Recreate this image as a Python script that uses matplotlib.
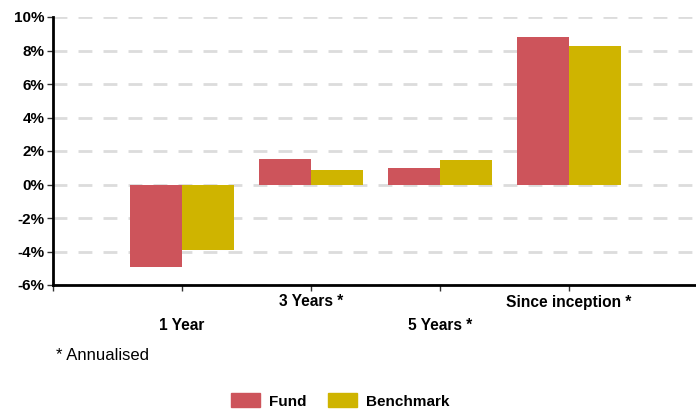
import numpy as np
import matplotlib.pyplot as plt
from matplotlib.transforms import blended_transform_factory
from matplotlib.patches import Patch

plt.rcParams['font.family'] = ['Liberation Sans', 'DejaVu Sans']

categories = ['1 Year', '3 Years *', '5 Years *', 'Since inception *']
fund = [-4.9, 1.5, 1.0, 8.8]
benchmark = [-3.9, 0.85, 1.45, 8.25]
y_ticks = [-6, -4, -2, 0, 2, 4, 6, 8, 10]

fund_color = '#cd545b'
bench_color = '#cfb400'

fig = plt.figure(figsize=(6.96, 4.12), dpi=100)
ax = fig.add_axes([53 / 696, 127 / 412, 645 / 696, 268 / 412])

x = np.arange(1, len(categories) + 1)
w = 0.4
ax.bar(x - w / 2, fund, w, color=fund_color, zorder=3)
ax.bar(x + w / 2, benchmark, w, color=bench_color, zorder=3)

ax.set_xlim(0, 5)
ax.set_ylim(-6, 10)
ax.set_yticks(y_ticks)
ax.set_yticklabels(['{}%'.format(v) for v in y_ticks], fontweight='bold', fontsize=11)
ax.set_xticks(np.arange(0, 5))
ax.set_xticklabels([])
ax.tick_params(axis='both', length=4, width=1, color='#333333')
ax.tick_params(axis='y', pad=2)

ax.grid(axis='y', linestyle=(0, (5, 4)), color='#dcdcdc', linewidth=2, zorder=0)
ax.set_axisbelow(True)
for s in ['top', 'right']:
    ax.spines[s].set_visible(False)
ax.spines['left'].set_linewidth(2)
ax.spines['bottom'].set_linewidth(2)

# staggered category labels
trans = blended_transform_factory(ax.transData, fig.transFigure)
for i, label in enumerate(categories):
    yy = (412 - 302) / 412 if i % 2 else (412 - 326) / 412
    ax.text(x[i], yy, label, transform=trans, ha='center', va='center',
            fontweight='bold', fontsize=11.2)

fig.text(56 / 696, (412 - 355) / 412, '* Annualised', fontsize=12, va='center')

handles = [Patch(color=fund_color, label='Fund'), Patch(color=bench_color, label='Benchmark')]
fig.legend(handles=handles, loc='center', bbox_to_anchor=(340 / 696, (412 - 401) / 412),
           ncol=2, frameon=False, prop={'weight': 'bold', 'size': 11},
           handlelength=1.9, handleheight=1.0, columnspacing=1.4, handletextpad=0.6)

fig.savefig('out.png', dpi=100)
